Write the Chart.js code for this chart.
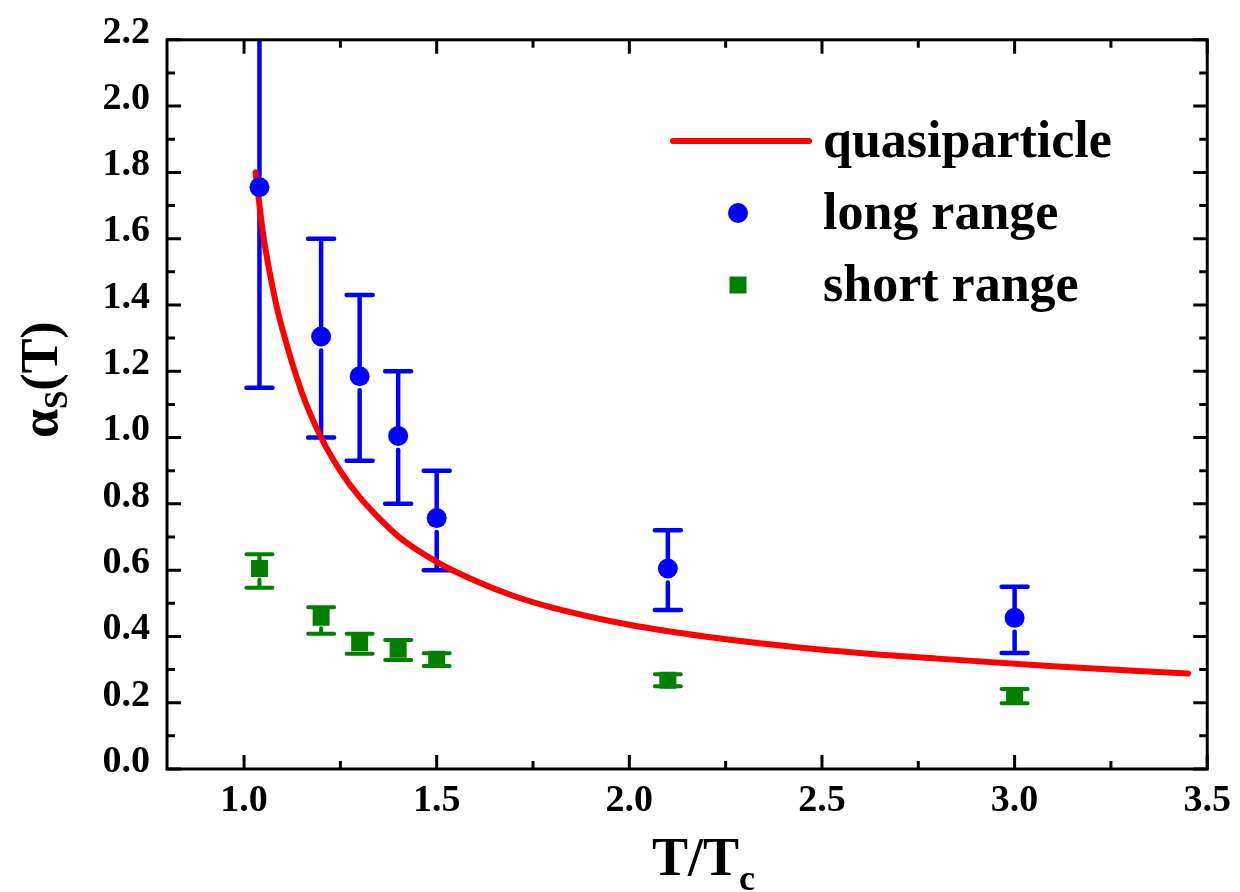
<!DOCTYPE html>
<html>
<head>
<meta charset="utf-8">
<script src="https://cdn.jsdelivr.net/npm/chart.js@4"></script>
<style>
  html, body { margin: 0; padding: 0; background: #fff; }
  #wrap { width: 1240px; height: 892px; }
</style>
</head>
<body>
<div id="wrap"><canvas id="chart" width="1240" height="892"></canvas></div>
<script>
// quasiparticle model curve
const quasiT = [1.03, 1.05, 1.08, 1.1, 1.15, 1.2, 1.25, 1.3, 1.35, 1.4, 1.5, 1.6, 1.7, 1.8, 2.0, 2.2, 2.5, 2.8, 3.1, 3.45];
const quasiAlpha = [1.80, 1.61, 1.42, 1.325, 1.136, 1.0, 0.899, 0.82, 0.757, 0.702, 0.625, 0.568, 0.522, 0.487, 0.435, 0.399, 0.36, 0.333, 0.31, 0.288];

// lattice points, long range fit
const longT = [1.04, 1.2, 1.3, 1.4, 1.5, 2.1, 3.0];
const longAlpha = [1.755, 1.305, 1.185, 1.005, 0.757, 0.605, 0.456];
const longLow = [1.15, 1.0, 0.93, 0.8, 0.6, 0.48, 0.35];
const longHigh = [2.35, 1.6, 1.43, 1.2, 0.9, 0.72, 0.55];

// lattice points, short range fit
const shortT = [1.04, 1.2, 1.3, 1.4, 1.5, 2.1, 3.0];
const shortAlpha = [0.605, 0.458, 0.381, 0.361, 0.331, 0.268, 0.221];
const shortLow = [0.547, 0.408, 0.348, 0.329, 0.311, 0.25, 0.198];
const shortHigh = [0.648, 0.488, 0.408, 0.389, 0.349, 0.286, 0.241];

// axis ticks
const xMajor = [1.0, 1.5, 2.0, 2.5, 3.0, 3.5];
const xMinor = [1.25, 1.75, 2.25, 2.75, 3.25];
const yMajor = [0, 0.2, 0.4, 0.6, 0.8, 1.0, 1.2, 1.4, 1.6, 1.8, 2.0, 2.2];
const yMinor = [0.1, 0.3, 0.5, 0.7, 0.9, 1.1, 1.3, 1.5, 1.7, 1.9, 2.1];

const SERIF = "'Liberation Serif', 'Times New Roman', serif";
const pts = (xs, ys) => xs.map((x, i) => ({ x, y: ys[i] }));

// box around the plot with inward ticks on all four sides
const frameTicks = {
  id: 'frameTicks',
  afterDraw(chart) {
    const { ctx, chartArea: a, scales: { x, y } } = chart;
    ctx.save();
    ctx.strokeStyle = '#000';
    ctx.lineWidth = 3;
    ctx.beginPath();
    const xt = (v, len) => {
      const p = x.getPixelForValue(v);
      ctx.moveTo(p, a.bottom); ctx.lineTo(p, a.bottom - len);
      ctx.moveTo(p, a.top); ctx.lineTo(p, a.top + len);
    };
    const yt = (v, len) => {
      const p = y.getPixelForValue(v);
      ctx.moveTo(a.left, p); ctx.lineTo(a.left + len, p);
      ctx.moveTo(a.right, p); ctx.lineTo(a.right - len, p);
    };
    xMajor.forEach(v => xt(v, 14));
    xMinor.forEach(v => xt(v, 8));
    yMajor.forEach(v => yt(v, 14));
    yMinor.forEach(v => yt(v, 8));
    ctx.stroke();
    ctx.strokeRect(a.left, a.top, a.right - a.left, a.bottom - a.top);
    ctx.restore();
  }
};

// vertical error bars with caps
const errorBars = {
  id: 'errorBars',
  beforeDatasetsDraw(chart) {
    const { ctx, chartArea: a, scales: { x, y } } = chart;
    ctx.save();
    ctx.beginPath();
    ctx.rect(a.left, a.top, a.right - a.left, a.bottom - a.top);
    ctx.clip();
    chart.data.datasets.forEach(ds => {
      const eb = ds.errorBars;
      if (!eb) return;
      ctx.strokeStyle = ds.backgroundColor;
      ctx.lineWidth = eb.lineWidth;
      ctx.lineCap = 'round';
      ds.data.forEach((p, i) => {
        const px = x.getPixelForValue(p.x);
        const py = y.getPixelForValue(p.y);
        const lo = y.getPixelForValue(eb.low[i]);
        const hi = y.getPixelForValue(eb.high[i]);
        ctx.beginPath();
        ctx.moveTo(px, hi); ctx.lineTo(px, py);
        ctx.moveTo(px, Math.min(py + eb.gap, lo)); ctx.lineTo(px, lo);
        ctx.moveTo(px - eb.cap, hi); ctx.lineTo(px + eb.cap, hi);
        ctx.moveTo(px - eb.cap, lo); ctx.lineTo(px + eb.cap, lo);
        ctx.stroke();
      });
    });
    ctx.restore();
  }
};

// legend in the upper right of the plot
const legendBox = {
  id: 'legendBox',
  afterDraw(chart) {
    const ctx = chart.ctx;
    const rows = [141, 213, 285];
    ctx.save();
    ctx.font = `bold 52px ${SERIF}`;
    ctx.textBaseline = 'alphabetic';
    chart.data.datasets.forEach((ds, i) => {
      const cy = rows[i];
      if (ds.type === 'line') {
        ctx.strokeStyle = ds.borderColor;
        ctx.lineWidth = 6;
        ctx.lineCap = 'round';
        ctx.beginPath();
        ctx.moveTo(673, cy); ctx.lineTo(809, cy);
        ctx.stroke();
      } else {
        ctx.fillStyle = ds.backgroundColor;
        ctx.beginPath();
        if (ds.pointStyle === 'circle') ctx.arc(738, cy, 10, 0, Math.PI * 2);
        else ctx.rect(738 - 8.5, cy - 8.5, 17, 17);
        ctx.fill();
      }
      ctx.fillStyle = '#000';
      ctx.fillText(ds.label, 823, cy + 16);
    });
    ctx.restore();
  }
};

// axis titles with subscripts
const axisTitles = {
  id: 'axisTitles',
  afterDraw(chart) {
    const ctx = chart.ctx;
    ctx.save();
    ctx.fillStyle = '#000';
    ctx.textBaseline = 'alphabetic';
    // T/Tc
    ctx.font = `bold 54px ${SERIF}`;
    ctx.fillText('T/T', 652, 875);
    const w = ctx.measureText('T/T').width;
    ctx.font = `bold 36px ${SERIF}`;
    ctx.fillText('c', 652 + w, 890);
    // alpha_S(T)
    ctx.translate(57, 438);
    ctx.rotate(-Math.PI / 2);
    ctx.font = `bold 52px ${SERIF}`;
    ctx.fillText('α', 0, 0);
    const wa = ctx.measureText('α').width;
    ctx.font = `bold 33px ${SERIF}`;
    ctx.fillText('S', wa, 10);
    const ws = ctx.measureText('S').width;
    ctx.font = `bold 52px ${SERIF}`;
    ctx.fillText('(T)', wa + ws, 0);
    ctx.restore();
  }
};

const tickFont = { family: SERIF, size: 38, weight: 'bold' };

new Chart(document.getElementById('chart'), {
  type: 'scatter',
  data: {
    datasets: [
      {
        label: 'quasiparticle',
        type: 'line',
        data: pts(quasiT, quasiAlpha),
        borderColor: '#ff0000',
        backgroundColor: '#ff0000',
        borderWidth: 6,
        borderCapStyle: 'round',
        borderJoinStyle: 'round',
        cubicInterpolationMode: 'monotone',
        pointRadius: 0,
        fill: false,
        order: 2
      },
      {
        label: 'long range',
        data: pts(longT, longAlpha),
        pointStyle: 'circle',
        pointRadius: 10,
        borderWidth: 0,
        backgroundColor: '#0000ff',
        errorBars: { low: longLow, high: longHigh, cap: 13, lineWidth: 4.5, gap: 14 },
        order: 1
      },
      {
        label: 'short range',
        data: pts(shortT, shortAlpha),
        pointStyle: 'rect',
        pointRadius: 12,
        borderWidth: 0,
        backgroundColor: '#008000',
        errorBars: { low: shortLow, high: shortHigh, cap: 13, lineWidth: 4, gap: 11 },
        order: 0
      }
    ]
  },
  options: {
    responsive: false,
    animation: false,
    devicePixelRatio: 1,
    layout: { padding: { top: 34, right: 28, left: 0, bottom: 0 } },
    plugins: { legend: { display: false }, tooltip: { enabled: false } },
    scales: {
      x: {
        type: 'linear',
        min: 0.8,
        max: 3.5,
        grid: { display: false, drawTicks: false },
        border: { display: false },
        ticks: { font: tickFont, color: '#000', padding: 9, maxRotation: 0, autoSkip: false, callback: v => v.toFixed(1) },
        afterBuildTicks: s => { s.ticks = xMajor.map(v => ({ value: v })); },
        afterFit: s => { s.height = 123; }
      },
      y: {
        type: 'linear',
        min: 0,
        max: 2.2,
        grid: { display: false, drawTicks: false },
        border: { display: false },
        ticks: { font: tickFont, color: '#000', padding: 17, labelOffset: -7, autoSkip: false, callback: v => v.toFixed(1) },
        afterBuildTicks: s => { s.ticks = yMajor.map(v => ({ value: v })); },
        afterFit: s => { s.width = 167; }
      }
    }
  },
  plugins: [errorBars, frameTicks, legendBox, axisTitles]
});
</script>
</body>
</html>
